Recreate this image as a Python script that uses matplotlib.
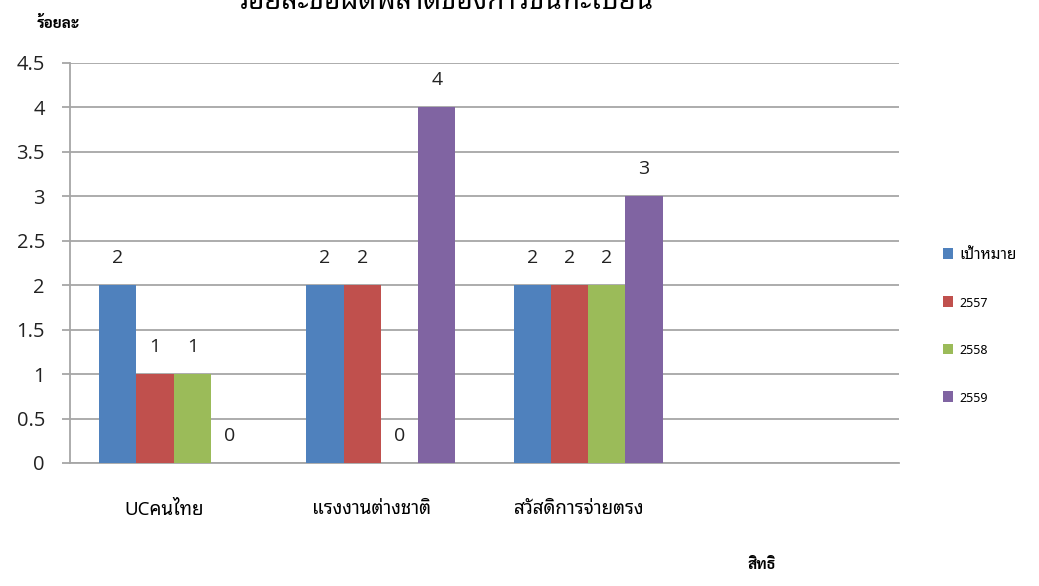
import numpy as np
import matplotlib
matplotlib.use("Agg")
import matplotlib.pyplot as plt
import matplotlib.transforms as mtransforms

# chart data
categories = ["UCคนไทย", "แรงงานต่างชาติ", "สวัสดิการจ่ายตรง", ""]
series_names = ["เป้าหมาย", "2557", "2558", "2559"]
target = [2, 2, 2]
y2557 = [1, 2, 2]
y2558 = [1, 0, 2]
y2559 = [0, 4, 3]
colors = ["#4F81BD", "#C0504D", "#9BBB59", "#8064A2"]

THAI = ["Noto Sans Thai Looped", "DejaVu Sans"]
NUM = ["Open Sans", "DejaVu Sans"]
BOLD_THAI = ["Sarabun", "DejaVu Sans"]

fig = plt.figure(figsize=(10.39, 5.86), dpi=100)
ax = fig.add_axes([70 / 1039, 1 - 463 / 586, 829 / 1039, 400 / 586])

values = [target, y2557, y2558, y2559]
width = 0.18
x = np.arange(len(categories) - 1) + 0.5
for j, (vals, name, c) in enumerate(zip(values, series_names, colors)):
    pos = x + (j - 1.5) * width
    bars = ax.bar(pos, vals, width=width, color=c, label=name, zorder=3)
    for b, v in zip(bars, vals):
        ax.annotate(str(v), (b.get_x() + b.get_width() / 2, v),
                    xytext=(0, 19.5), textcoords="offset points",
                    ha="center", va="center", fontsize=14, family=NUM,
                    color="#222222")

ax.set_xlim(0, len(categories))
ax.set_ylim(0, 4.5)
ax.set_yticks(np.arange(0, 4.51, 0.5))
ax.set_yticklabels(["0", "0.5", "1", "1.5", "2", "2.5", "3", "3.5", "4", "4.5"],
                   fontsize=14.5, family=NUM, color="#222222")
ax.grid(axis="y", color="#A6A6A6", linewidth=1.3, zorder=0)
ax.set_xticks(np.arange(len(categories)) + 0.5)
ax.set_xticklabels(categories, fontsize=13.5, family=THAI)
ax.tick_params(axis="x", length=0, pad=27)
ax.tick_params(axis="y", length=6, width=1.3, color="#A6A6A6", pad=12)
shift = mtransforms.ScaledTranslation(-9 / 100, 0, fig.dpi_scale_trans)
for lab in ax.get_xticklabels():
    lab.set_transform(lab.get_transform() + shift)
for s in ["top", "right"]:
    ax.spines[s].set_visible(False)
for s in ["left", "bottom"]:
    ax.spines[s].set_color("#A6A6A6")
    ax.spines[s].set_linewidth(1.3)

fig.text(445 / 1039, 1 - 9 / 586, "ร้อยละข้อผิดพลาดของการขึ้นทะเบียน",
         ha="center", va="baseline", fontsize=20, fontweight="bold", family=THAI)
fig.text(58 / 1039, 1 - 23 / 586, "ร้อยละ", ha="center", va="center",
         fontsize=11, fontweight="bold", family=BOLD_THAI)
fig.text(762 / 1039, 1 - 565 / 586, "สิทธิ", ha="center", va="center",
         fontsize=11, fontweight="bold", family=BOLD_THAI)

leg = fig.legend(loc="upper left", bbox_to_anchor=(935 / 1039, 1 - 240 / 586),
                 frameon=False, prop={"family": THAI, "size": 11},
                 handlelength=0.7, handleheight=0.7, handletextpad=0.4,
                 labelspacing=2.2, borderpad=0)
for t in leg.get_texts()[1:]:
    t.set_fontsize(9)

fig.savefig("out.png")
